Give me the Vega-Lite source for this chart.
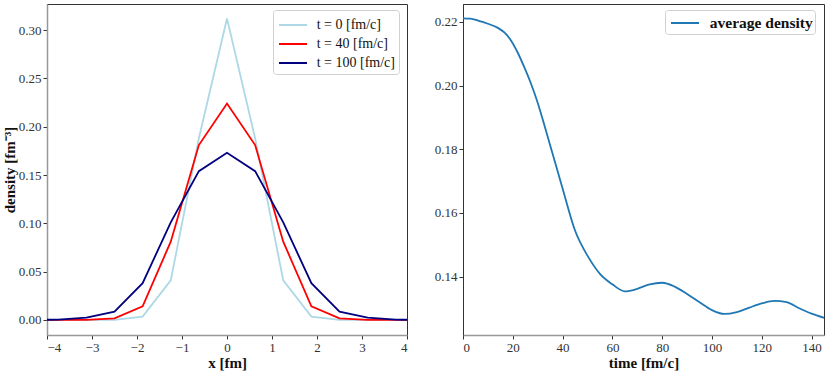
{
  "$schema": "https://vega.github.io/schema/vega-lite/v6.json",
  "padding": {"left": 1, "top": 3, "right": 4, "bottom": 0},
  "spacing": 25,
  "config": {
    "font": "Liberation Serif",
    "view": {"stroke": "#333", "strokeWidth": 1},
    "axis": {"labelFont": "Liberation Serif", "labelFontSize": 13, "labelColor": "#333", "titleFont": "Liberation Serif", "titleFontSize": 15, "titleFontWeight": "bold", "titleColor": "#111", "grid": false, "tickColor": "#333", "tickSize": 4, "domainColor": "#999", "domainWidth": 1.5, "labelPadding": 2, "titlePadding": 1},
    "legend": {"orient": "none", "fillColor": "white", "strokeColor": "#d0d0d0", "cornerRadius": 3, "padding": 4, "symbolType": "M-1.4,0L1.4,0", "symbolSize": 400, "symbolStrokeWidth": 2, "symbolOffset": 5, "labelFont": "Liberation Serif", "labelFontSize": 14, "labelColor": "#111", "rowPadding": 1, "labelOffset": 12.7}
  },
  "hconcat": [
    {
      "width": 360,
      "height": 331,
      "data": {"values": [
        {"x": -4.375, "density": 0.0, "t": "t = 0 [fm/c]"},
        {"x": -3.75, "density": 0.0, "t": "t = 0 [fm/c]"},
        {"x": -3.125, "density": 0.0, "t": "t = 0 [fm/c]"},
        {"x": -2.5, "density": 0.0001, "t": "t = 0 [fm/c]"},
        {"x": -1.875, "density": 0.0035, "t": "t = 0 [fm/c]"},
        {"x": -1.25, "density": 0.041, "t": "t = 0 [fm/c]"},
        {"x": -0.625, "density": 0.188, "t": "t = 0 [fm/c]"},
        {"x": 0, "density": 0.312, "t": "t = 0 [fm/c]"},
        {"x": 0.625, "density": 0.188, "t": "t = 0 [fm/c]"},
        {"x": 1.25, "density": 0.041, "t": "t = 0 [fm/c]"},
        {"x": 1.875, "density": 0.0035, "t": "t = 0 [fm/c]"},
        {"x": 2.5, "density": 0.0001, "t": "t = 0 [fm/c]"},
        {"x": 3.125, "density": 0.0, "t": "t = 0 [fm/c]"},
        {"x": 3.75, "density": 0.0, "t": "t = 0 [fm/c]"},
        {"x": 4.375, "density": 0.0, "t": "t = 0 [fm/c]"},
        {"x": -4.375, "density": 0.0, "t": "t = 40 [fm/c]"},
        {"x": -3.75, "density": 0.0, "t": "t = 40 [fm/c]"},
        {"x": -3.125, "density": 0.0001, "t": "t = 40 [fm/c]"},
        {"x": -2.5, "density": 0.0017, "t": "t = 40 [fm/c]"},
        {"x": -1.875, "density": 0.014, "t": "t = 40 [fm/c]"},
        {"x": -1.25, "density": 0.081, "t": "t = 40 [fm/c]"},
        {"x": -0.625, "density": 0.181, "t": "t = 40 [fm/c]"},
        {"x": 0, "density": 0.224, "t": "t = 40 [fm/c]"},
        {"x": 0.625, "density": 0.181, "t": "t = 40 [fm/c]"},
        {"x": 1.25, "density": 0.081, "t": "t = 40 [fm/c]"},
        {"x": 1.875, "density": 0.014, "t": "t = 40 [fm/c]"},
        {"x": 2.5, "density": 0.0017, "t": "t = 40 [fm/c]"},
        {"x": 3.125, "density": 0.0001, "t": "t = 40 [fm/c]"},
        {"x": 3.75, "density": 0.0, "t": "t = 40 [fm/c]"},
        {"x": 4.375, "density": 0.0, "t": "t = 40 [fm/c]"},
        {"x": -4.375, "density": 0.0, "t": "t = 100 [fm/c]"},
        {"x": -3.75, "density": 0.0003, "t": "t = 100 [fm/c]"},
        {"x": -3.125, "density": 0.0024, "t": "t = 100 [fm/c]"},
        {"x": -2.5, "density": 0.0086, "t": "t = 100 [fm/c]"},
        {"x": -1.875, "density": 0.038, "t": "t = 100 [fm/c]"},
        {"x": -1.25, "density": 0.101, "t": "t = 100 [fm/c]"},
        {"x": -0.625, "density": 0.154, "t": "t = 100 [fm/c]"},
        {"x": 0, "density": 0.173, "t": "t = 100 [fm/c]"},
        {"x": 0.625, "density": 0.154, "t": "t = 100 [fm/c]"},
        {"x": 1.25, "density": 0.101, "t": "t = 100 [fm/c]"},
        {"x": 1.875, "density": 0.038, "t": "t = 100 [fm/c]"},
        {"x": 2.5, "density": 0.0086, "t": "t = 100 [fm/c]"},
        {"x": 3.125, "density": 0.0024, "t": "t = 100 [fm/c]"},
        {"x": 3.75, "density": 0.0003, "t": "t = 100 [fm/c]"},
        {"x": 4.375, "density": 0.0, "t": "t = 100 [fm/c]"}
      ]},
      "mark": {"type": "line", "strokeWidth": 1.8, "clip": true},
      "encoding": {
        "x": {"field": "x", "type": "quantitative", "scale": {"domain": [-4, 4], "nice": false, "zero": false}, "axis": {"values": [-4, -3, -2, -1, 0, 1, 2, 3, 4], "format": "d", "title": "x [fm]"}},
        "y": {"field": "density", "type": "quantitative", "scale": {"domain": [-0.0156, 0.327], "nice": false, "zero": false}, "axis": {"values": [0, 0.05, 0.1, 0.15, 0.2, 0.25, 0.3], "format": ".2f", "title": "density [fm⁻³]"}},
        "color": {"field": "t", "type": "nominal", "sort": ["t = 0 [fm/c]", "t = 40 [fm/c]", "t = 100 [fm/c]"], "scale": {"domain": ["t = 0 [fm/c]", "t = 40 [fm/c]", "t = 100 [fm/c]"], "range": ["#add8e6", "#ff0000", "#000080"]}, "legend": {"title": null, "legendX": 226, "legendY": 6}}
      }
    },
    {
      "width": 361,
      "height": 331,
      "data": {"values": [
        {"time": 0, "avg": 0.2211, "series": "average density"},
        {"time": 3, "avg": 0.2210, "series": "average density"},
        {"time": 6, "avg": 0.2204, "series": "average density"},
        {"time": 10, "avg": 0.2194, "series": "average density"},
        {"time": 14, "avg": 0.2181, "series": "average density"},
        {"time": 16.7, "avg": 0.2166, "series": "average density"},
        {"time": 19.4, "avg": 0.214, "series": "average density"},
        {"time": 22, "avg": 0.2103, "series": "average density"},
        {"time": 24.7, "avg": 0.2056, "series": "average density"},
        {"time": 27.4, "avg": 0.2004, "series": "average density"},
        {"time": 30, "avg": 0.1946, "series": "average density"},
        {"time": 32, "avg": 0.1894, "series": "average density"},
        {"time": 35, "avg": 0.1813, "series": "average density"},
        {"time": 40, "avg": 0.1677, "series": "average density"},
        {"time": 45, "avg": 0.1545, "series": "average density"},
        {"time": 50, "avg": 0.1466, "series": "average density"},
        {"time": 55, "avg": 0.1409, "series": "average density"},
        {"time": 60, "avg": 0.1376, "series": "average density"},
        {"time": 65, "avg": 0.1354, "series": "average density"},
        {"time": 70, "avg": 0.1362, "series": "average density"},
        {"time": 75, "avg": 0.1376, "series": "average density"},
        {"time": 80, "avg": 0.1381, "series": "average density"},
        {"time": 85, "avg": 0.1369, "series": "average density"},
        {"time": 90, "avg": 0.1346, "series": "average density"},
        {"time": 95, "avg": 0.132, "series": "average density"},
        {"time": 100, "avg": 0.1295, "series": "average density"},
        {"time": 105, "avg": 0.1283, "series": "average density"},
        {"time": 110, "avg": 0.1289, "series": "average density"},
        {"time": 115, "avg": 0.1303, "series": "average density"},
        {"time": 120, "avg": 0.1316, "series": "average density"},
        {"time": 125, "avg": 0.1324, "series": "average density"},
        {"time": 130, "avg": 0.132, "series": "average density"},
        {"time": 135, "avg": 0.1301, "series": "average density"},
        {"time": 140, "avg": 0.1284, "series": "average density"},
        {"time": 145, "avg": 0.1271, "series": "average density"}
      ]},
      "mark": {"type": "line", "strokeWidth": 1.8, "interpolate": "monotone", "clip": true},
      "encoding": {
        "x": {"field": "time", "type": "quantitative", "scale": {"domain": [0, 145], "nice": false, "zero": false}, "axis": {"values": [0, 20, 40, 60, 80, 100, 120, 140], "format": "d", "title": "time [fm/c]"}},
        "y": {"field": "avg", "type": "quantitative", "scale": {"domain": [0.1217, 0.2256], "nice": false, "zero": false}, "axis": {"values": [0.14, 0.16, 0.18, 0.2, 0.22], "format": ".2f", "title": null, "domainColor": "#333", "domainWidth": 1}},
        "color": {"field": "series", "type": "nominal", "scale": {"domain": ["average density"], "range": ["#1f77b4"]}, "legend": {"title": null, "labelFontWeight": "bold", "labelFontSize": 15.5, "padding": 2, "symbolOffset": 7, "labelOffset": 13.8, "rowPadding": 0, "legendX": 202, "legendY": 6}}
      }
    }
  ],
  "resolve": {"scale": {"color": "independent"}, "legend": {"color": "independent"}}
}
